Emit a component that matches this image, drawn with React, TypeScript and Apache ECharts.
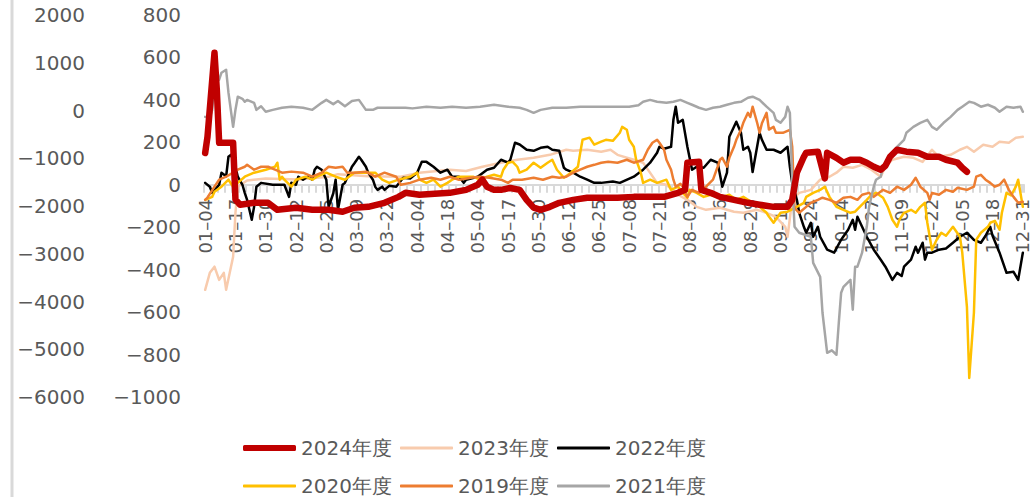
import React, { useEffect, useRef } from "react";
import * as echarts from "echarts";

// ---- categories (trading days, MM-DD) ----
const MONTH_DAYS = [31, 29, 31, 30, 31, 30, 31, 31, 30, 31, 30, 31];
const SKIPPED_DAYS = ["04-05", "05-01", "05-02", "05-03", "10-01", "10-02", "10-03", "10-04", "10-05", "10-06", "10-07"];
const pad = (n: number) => (n < 10 ? "0" : "") + n;
const categories: string[] = [];
for (let m = 1; m <= 12; m++) {
  for (let d = 1; d <= MONTH_DAYS[m - 1]; d++) {
    if (m === 1 && d < 4) continue;
    const s = pad(m) + "-" + pad(d);
    if (!SKIPPED_DAYS.includes(s)) categories.push(s);
  }
}

// ---- series: [day index, value] ----
const s2024: [number, number][] = [
  [0, 150], [1, 226], [4, 622], [5, 448], [6, 198], [12, 198], [13, -70], [15, -94], [21, -85], [27, -85], [31, -118],
  [39, -108], [46, -118], [53, -118], [59, -127], [64, -108], [70, -104], [77, -85], [83, -57], [86, -38], [92, -47],
  [105, -38], [112, -24], [117, 0], [119, 24], [121, -9], [124, -24], [127, -24], [131, -15], [135, -24], [138, -71],
  [141, -108], [144, -118], [148, -104], [152, -85], [158, -71], [164, -61], [170, -61], [177, -61], [184, -57],
  [191, -57], [197, -57], [203, -38], [206, -24], [207, 104], [212, 108], [213, -24], [217, -38], [221, -57],
  [227, -71], [233, -85], [238, -94], [244, -104], [250, -104], [252, -71], [254, 57], [257, 132], [258, 151],
  [263, 156], [266, 30], [267, 151], [271, 127], [274, 104], [277, 118], [281, 118], [284, 104], [287, 85], [290, 71],
  [292, 90], [294, 132], [297, 165], [301, 156], [306, 151], [310, 132], [315, 132], [318, 118], [323, 104], [325, 80],
  [327, 61],
];
const s2023: [number, number][] = [
  [0, -495], [2, -415], [4, -386], [6, -448], [8, -415], [9, -495], [12, -339], [13, -132], [14, -9], [18, 20],
  [26, 30], [40, 25], [53, 38], [57, 50], [70, 40], [84, 38], [92, 57], [105, 71], [112, 65], [119, 85], [127, 104],
  [134, 118], [141, 127], [148, 141], [155, 165], [158, 160], [164, 165], [170, 156], [174, 165], [177, 141],
  [184, 118], [188, 104], [194, 9], [198, 0], [203, -47], [207, -71], [211, -104], [215, -118], [221, -108],
  [227, -127], [231, -132], [237, -118], [241, -132], [245, -151], [249, -198], [250, -245], [252, -71], [255, -38],
  [260, -24], [264, 24], [268, 38], [271, 57], [274, 85], [278, 80], [282, 94], [286, 71], [290, 38], [292, 85],
  [295, 118], [300, 132], [304, 127], [308, 108], [312, 165], [315, 132], [320, 141], [324, 165], [327, 179],
  [330, 156], [334, 189], [338, 179], [341, 203], [345, 198], [348, 222], [351, 226],
];
const s2022: [number, number][] = [
  [0, 9], [2, -9], [3, -38], [6, 0], [7, 57], [9, 40], [10, 132], [11, 141], [12, 118], [13, 85], [14, 38], [16, 0],
  [17, -38], [18, -71], [20, -165], [21, -104], [22, -9], [24, 9], [29, 0], [34, 0], [36, -57], [37, 10], [39, 0],
  [40, 38], [42, 24], [44, 38], [46, 24], [47, 71], [48, 85], [50, 71], [52, 24], [53, -104], [55, -40], [56, 24],
  [57, -118], [59, 0], [60, 9], [63, 85], [64, 100], [66, 132], [67, 118], [69, 85], [70, 57], [72, 24], [73, -9],
  [74, -24], [76, -9], [77, -24], [79, -5], [82, -9], [85, 33], [88, 30], [91, 57], [93, 108], [95, 108], [98, 85],
  [101, 57], [104, 71], [106, 38], [109, 38], [111, 9], [112, 24], [117, 38], [121, 71], [124, 80], [127, 118],
  [130, 104], [131, 118], [133, 198], [135, 190], [138, 165], [141, 160], [144, 174], [147, 179], [149, 165],
  [152, 160], [154, 80], [155, 71], [158, 57], [161, 38], [164, 24], [167, 9], [170, 9], [175, 15], [178, 9],
  [184, 38], [188, 71], [191, 104], [194, 151], [195, 179], [197, 170], [200, 179], [201, 306], [202, 368],
  [203, 292], [205, 306], [207, 179], [209, 71], [211, 85], [214, 80], [217, 118], [220, 104], [222, -9], [224, 57],
  [225, 226], [227, 273], [228, 297], [230, 245], [231, 165], [233, 179], [234, 151], [235, 60], [238, 245],
  [239, 212], [241, 165], [244, 165], [247, 151], [250, 179], [251, 85], [252, 9], [254, -71], [255, -132],
  [257, -198], [258, -226], [260, -179], [261, -245], [263, -198], [264, -245], [267, -306], [270, -320], [273, -259],
  [276, -212], [278, -165], [279, -212], [280, -151], [282, -198], [284, -245], [287, -306], [290, -353], [292, -386],
  [295, -448], [297, -415], [299, -430], [300, -386], [303, -353], [305, -292], [306, -320], [308, -273], [309, -353],
  [310, -320], [312, -320], [315, -306], [318, -300], [321, -273], [324, -245], [327, -226], [330, -260], [333, -273],
  [335, -240], [337, -198], [338, -240], [341, -320], [344, -415], [347, -410], [349, -448], [351, -320],
];
const s2020: [number, number][] = [
  [0, -71], [3, -57], [4, -33], [7, -9], [10, 24], [12, -9], [14, 9], [17, 38], [21, 57], [26, 71], [30, 85],
  [31, 104], [32, 24], [33, 38], [34, 24], [37, -9], [39, 24], [43, 38], [46, 24], [48, 38], [52, 57], [56, 38],
  [60, 24], [64, 57], [69, 57], [73, 57], [76, 24], [79, 9], [83, 24], [88, 38], [91, 57], [92, 24], [95, 9],
  [98, 24], [101, -9], [104, 9], [106, 24], [109, 38], [112, 38], [115, 38], [118, 24], [121, 38], [124, 47],
  [127, 38], [128, 71], [130, 104], [132, 108], [134, 85], [135, 57], [138, 71], [141, 104], [144, 80], [147, 104],
  [149, 118], [151, 71], [154, 33], [157, 57], [160, 85], [161, 151], [162, 212], [165, 222], [167, 189], [170, 203],
  [172, 212], [175, 207], [178, 245], [179, 273], [181, 259], [182, 212], [184, 179], [185, 118], [187, 57], [188, 9],
  [191, 24], [194, 9], [198, 24], [200, -24], [203, -9], [205, -38], [207, -61], [208, -24], [211, -38], [214, -57],
  [217, -47], [221, -61], [225, -47], [228, -71], [231, -57], [235, -85], [238, -104], [241, -132], [242, -150],
  [244, -179], [247, -132], [250, -127], [254, -104], [257, -85], [258, -57], [261, -38], [264, -24], [266, -9],
  [268, -57], [271, -104], [274, -118], [277, -132], [279, -127], [281, -104], [284, -71], [286, -47], [288, -38],
  [291, -61], [293, -104], [295, -165], [297, -198], [298, -165], [300, -132], [303, -118], [305, -132], [307, -104],
  [309, -85], [310, -179], [312, -306], [314, -259], [316, -226], [318, -240], [321, -198], [324, -245], [325, -320],
  [327, -575], [328, -910], [330, -603], [331, -259], [333, -226], [336, -198], [337, -179], [339, -170], [341, -212],
  [342, -132], [344, -38], [346, -50], [348, -9], [349, 24], [351, -104],
];
const s2019: [number, number][] = [
  [0, -71], [1, -60], [4, -9], [6, 24], [9, 38], [12, 57], [14, 71], [17, 85], [18, 94], [21, 71], [24, 85], [27, 85],
  [30, 71], [33, 57], [37, 62], [42, 57], [46, 38], [50, 57], [53, 85], [56, 80], [59, 85], [61, 57], [64, 57],
  [69, 62], [73, 38], [77, 57], [82, 38], [84, 0], [88, 9], [92, 24], [97, 33], [101, 24], [105, 38], [109, 24],
  [114, 33], [118, 38], [122, 33], [127, 24], [130, 9], [132, 24], [136, 24], [141, 33], [145, 24], [149, 38],
  [152, 33], [155, 38], [158, 57], [161, 71], [164, 85], [167, 94], [170, 104], [173, 108], [177, 104], [181, 118],
  [184, 104], [188, 118], [190, 165], [192, 198], [194, 212], [195, 198], [197, 165], [198, 118], [200, 71], [201, 24],
  [202, -9], [204, 5], [205, -9], [207, -57], [209, -24], [212, -38], [215, -9], [218, 24], [220, 85], [221, 118],
  [222, 127], [224, 85], [225, 127], [227, 179], [228, 212], [230, 259], [231, 292], [233, 339], [234, 320],
  [235, 368], [237, 290], [238, 245], [239, 290], [241, 339], [242, 260], [244, 273], [245, 245], [248, 245],
  [251, 259], [252, 180], [253, -110], [255, -132], [258, -104], [260, -85], [263, -71], [265, -61], [268, -71],
  [271, -85], [274, -61], [277, -57], [280, -71], [282, -47], [285, -38], [287, -57], [291, -24], [294, -38],
  [297, -9], [300, -24], [303, 0], [305, 33], [307, -9], [310, -38], [311, -71], [312, -38], [315, -47], [318, -24],
  [321, -33], [323, -14], [327, -24], [330, -9], [331, 38], [333, 47], [335, 24], [337, 9], [339, -9], [341, 0],
  [343, 24], [345, -24], [347, -57], [349, -85], [351, -80],
];
const s2021: [number, number][] = [
  [0, 320], [2, 316], [3, 353], [4, 481], [6, 495], [7, 528], [9, 542], [10, 434], [12, 273], [13, 353], [14, 415],
  [16, 405], [17, 391], [18, 400], [21, 386], [22, 353], [24, 370], [26, 344], [29, 353], [33, 363], [37, 368],
  [42, 363], [46, 353], [50, 386], [52, 400], [55, 380], [57, 395], [60, 370], [63, 395], [66, 400], [69, 353],
  [72, 353], [74, 363], [77, 363], [82, 363], [86, 363], [89, 360], [95, 368], [101, 363], [106, 368], [112, 363],
  [118, 368], [124, 377], [130, 368], [135, 363], [138, 353], [141, 339], [144, 353], [149, 363], [155, 363],
  [161, 368], [167, 368], [173, 368], [178, 368], [182, 368], [186, 375], [188, 391], [191, 400], [194, 391],
  [198, 386], [201, 391], [204, 400], [207, 386], [209, 377], [212, 363], [215, 353], [218, 363], [221, 368],
  [224, 377], [227, 386], [230, 391], [233, 410], [235, 415], [238, 400], [241, 368], [244, 339], [245, 306],
  [247, 292], [249, 320], [250, 368], [251, 339], [252, 24], [253, -198], [255, -226], [260, -245], [261, -368],
  [264, -434], [265, -603], [267, -792], [269, -780], [271, -801], [272, -650], [273, -509], [274, -481], [277, -448],
  [278, -589], [279, -386], [280, -386], [282, -320], [284, -198], [285, -104], [287, -9], [288, 24], [290, 38],
  [291, 85], [293, 104], [295, 151], [297, 179], [300, 212], [301, 245], [304, 273], [307, 292], [310, 306],
  [312, 273], [314, 259], [317, 292], [320, 320], [323, 353], [325, 368], [328, 391], [330, 386], [333, 368],
  [336, 377], [339, 363], [341, 344], [344, 368], [347, 363], [350, 368], [351, 344],
];

const SERIES_NAMES = ["2024年度", "2023年度", "2022年度", "2020年度", "2019年度", "2021年度"];
const SERIES_DATA = [s2024, s2023, s2022, s2020, s2019, s2021];
const SERIES_COLORS = ["#C00000", "#F8CBAD", "#000000", "#FFC000", "#ED7D31", "#A6A6A6"];
const SERIES_WIDTHS = [6.5, 2.5, 2.5, 2.5, 2.5, 2.5];

const FONT = "DejaVu Sans";
const TEXT_COLOR = "#595959";
const minusFmt = (v: number) => String(v).replace("-", "\u2212");

// legend layout (left of icon, top of row)
const LEGEND_LEFT = [243, 400, 557];
const LEGEND_TOP = [438, 476];

export default function App() {
  const ref = useRef<HTMLDivElement>(null);
  useEffect(() => {
    document.body.style.margin = "0";
    const chart = echarts.init(ref.current!, undefined, { renderer: "svg" });
    const gridTop = 15;
    const gridBottom = 100;
    const plotH = 497 - gridTop - gridBottom;
    const yMin = -1000;
    const yMax = 800;
    // move x axis up to the zero line of the inner y axis
    const zeroOffset = -(plotH * (0 - yMin)) / (yMax - yMin);
    chart.setOption({
      animation: false,
      backgroundColor: "#ffffff",
      grid: { left: 204, right: 9, top: gridTop, bottom: gridBottom, containLabel: false },
      xAxis: {
        type: "category",
        data: categories,
        boundaryGap: true,
        position: "bottom",
        offset: zeroOffset,
        axisLine: { onZero: false, lineStyle: { color: "#D9D9D9", width: 2 } },
        axisTick: { show: true, interval: 2, length: 8, lineStyle: { color: "#D9D9D9", width: 2 } },
        axisLabel: {
          interval: 12,
          rotate: 90,
          margin: 14,
          fontSize: 18,
          fontFamily: FONT,
          color: TEXT_COLOR,
          formatter: (v: string) => v.replace("-", "\u2013"),
        },
        splitLine: { show: false },
      },
      yAxis: [
        {
          type: "value",
          position: "left",
          min: yMin,
          max: yMax,
          interval: 200,
          axisLine: { show: false },
          axisTick: { show: false },
          splitLine: { show: false },
          axisLabel: { margin: 23, fontSize: 20, fontFamily: FONT, color: TEXT_COLOR, formatter: minusFmt },
        },
        {
          type: "value",
          position: "left",
          offset: 96,
          min: -6000,
          max: 2000,
          interval: 1000,
          axisLine: { show: false },
          axisTick: { show: false },
          splitLine: { show: false },
          axisLabel: { margin: 23, fontSize: 20, fontFamily: FONT, color: TEXT_COLOR, formatter: minusFmt },
        },
      ],
      legend: SERIES_NAMES.map((name, k) => ({
        data: [{ name, icon: "roundRect" }],
        left: LEGEND_LEFT[k % 3],
        top: LEGEND_TOP[Math.floor(k / 3)],
        padding: 0,
        itemWidth: 53,
        itemHeight: k === 0 ? 6 : 3,
        itemGap: 10,
        itemStyle: { color: SERIES_COLORS[k], borderWidth: 0 },
        textStyle: { fontSize: 20, lineHeight: 20, fontFamily: FONT, color: TEXT_COLOR },
      })),
      graphic: [
        {
          type: "line",
          shape: { x1: 12, y1: 0, x2: 12, y2: 497 },
          style: { stroke: "#D9D9D9", lineWidth: 3 },
        },
      ],
      series: SERIES_NAMES.map((name, k) => ({
        name,
        type: "line",
        yAxisIndex: 0,
        data: SERIES_DATA[k],
        symbol: "none",
        showSymbol: false,
        color: SERIES_COLORS[k],
        lineStyle: { color: SERIES_COLORS[k], width: SERIES_WIDTHS[k], cap: "round", join: "round" },
        z: k === 0 ? 3 : 2,
      })),
    });
    return () => chart.dispose();
  }, []);
  return <div ref={ref} style={{ width: 1033, height: 497 }} />;
}
